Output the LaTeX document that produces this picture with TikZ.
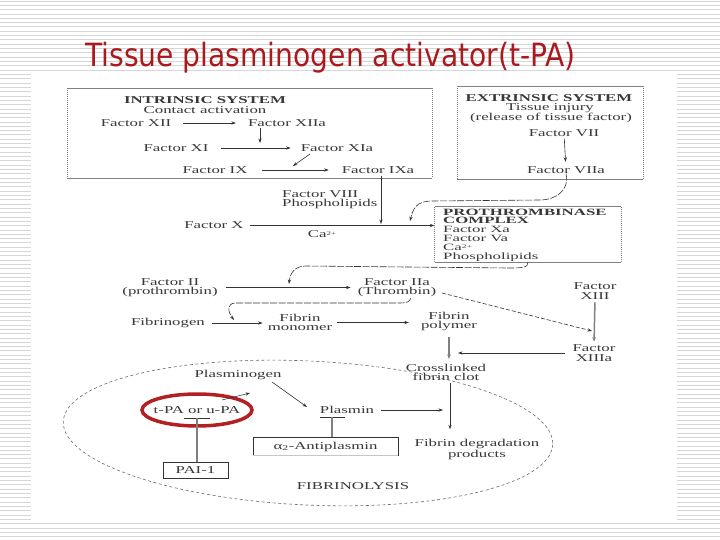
\documentclass[tikz,border=0pt]{standalone}
\usepackage{fontspec}
\usetikzlibrary{arrows.meta,calc}
\newfontfamily\scanfont[FakeStretch=1.6]{Liberation Serif}
\newfontfamily\scanwide[FakeStretch=1.75]{Liberation Serif}
\newfontfamily\titlefont[FakeStretch=0.88]{DejaVu Sans}
\newcommand{\capl}{Ca\raisebox{2.2pt}{\fontsize{5.5}{5.5}\selectfont 2+}}
\definecolor{titlered}{RGB}{170,25,30}
\definecolor{ringred}{RGB}{178,32,36}
\definecolor{txtc}{gray}{0.22}
\definecolor{lnc}{gray}{0.2}
\definecolor{thickc}{gray}{0.5}
\definecolor{boxc}{gray}{0.5}
\definecolor{stripec}{gray}{0.84}
\begin{document}
\begin{tikzpicture}[x=1pt,y=-1pt,
  lbl/.style={font=\scanfont\fontsize{10.5}{9.3}\selectfont, text=txtc, inner sep=0pt, align=center},
  hdr/.style={lbl, font=\scanfont\bfseries\fontsize{10.5}{9.3}\selectfont},
  blbl/.style={lbl, font=\scanwide\fontsize{9.6}{9}\selectfont, anchor=base west},
  bhdr/.style={lbl, font=\scanwide\bfseries\fontsize{9.6}{9}\selectfont, anchor=base west},
  arr/.style={draw=lnc, line width=0.6pt, -{Stealth[length=4.5pt,width=3.2pt]}},
  thk/.style={draw=thickc, line width=1.5pt, -{Stealth[length=4.5pt,width=3.6pt]}},
  thkline/.style={draw=thickc, line width=1.5pt},
  curv/.style={draw=lnc, line width=0.6pt, dash pattern=on 7pt off 1.5pt, -{Stealth[length=4.5pt,width=3.2pt]}},
  darr/.style={draw=lnc, line width=0.6pt, dash pattern=on 4pt off 2pt, -{Stealth[length=4.5pt,width=3.2pt]}},
  solidbox/.style={draw=boxc, line width=0.6pt},
  dotbox/.style={draw=boxc, line width=0.7pt, dash pattern=on 0.8pt off 1.2pt}
]
\useasboundingbox (0,0) rectangle (720,540);
% slide background
\foreach \i in {0,...,125} \draw[stripec, line width=0.9pt] (0,{\i*4.32+1}) -- (720,{\i*4.32+1});
\fill[white] (31,72) rectangle (677,522);
% title
\node[anchor=base west, inner sep=0pt, text=titlered, font=\titlefont\fontsize{32}{36}\selectfont] (title) at (85,67) {Tissue plasminogen activator(t-PA)};

% ---------- intrinsic system ----------
\draw[solidbox] (67,88) -- (432,88) (67,178) -- (432,178);
\draw[dotbox] (67,88) -- (67,178) (432,88) -- (432,178);
\node[hdr] (intr) at (205,100) {INTRINSIC SYSTEM};
\node[lbl] (contact) at (205,110.5) {Contact activation};
\node[lbl] (f12) at (136,123) {Factor XII};
\node[lbl] (f12a) at (287,123) {Factor XIIa};
\node[lbl] (f11) at (176,148) {Factor XI};
\node[lbl] (f11a) at (337,148) {Factor XIa};
\node[lbl] (f9) at (215,170) {Factor IX};
\node[lbl] (f9a) at (378,170) {Factor IXa};
\draw[arr, shorten <=12pt, shorten >=12pt] (f12) -- (f12a);
\draw[arr, shorten <=12pt, shorten >=10pt] (f11) -- (f11a);
\draw[arr, shorten <=14pt, shorten >=13pt] (f9) -- (f9a);
\coordinate (m12) at (260,143);
\draw[arr, shorten <=1.5pt] (m12 |- f12a.south) -- (m12);
\coordinate (m11s) at (310,154);
\coordinate (m11e) at (293,166);
\draw[arr] (m11s) -- (m11e);

% ---------- extrinsic system ----------
\draw[solidbox] (457,86) -- (643,86) (457,179) -- (643,179);
\draw[dotbox] (457,86) -- (457,179) (643,86) -- (643,179);
\node[hdr] (extr) at (549,98) {EXTRINSIC SYSTEM};
\node[lbl] (tinj) at (550,108.5) {Tissue injury};
\node[lbl] (rel) at (551,118) {(release of tissue factor)};
\node[lbl] (f7) at (564,133) {Factor VII};
\node[lbl] (f7a) at (566,170) {Factor VIIa};
\draw[arr, shorten <=2pt, shorten >=4.5pt] (f7) -- (f7a);

% ---------- factor X / prothrombinase ----------
\node[lbl] (fx) at (214,225.5) {Factor X};
\node[lbl, align=left, anchor=west] (f8) at (282,200) {Factor VIII\\Phospholipids};
\node[lbl] (ca) at (322,234.5) {\capl};
\node[minimum width=186pt, minimum height=55pt, inner sep=0pt] (ptb) at (528,234.5) {};
\draw[solidbox] (ptb.north west) -- (ptb.north east) (ptb.south west) -- (ptb.south east);
\draw[dotbox] (ptb.north west) -- (ptb.south west) (ptb.north east) -- (ptb.south east);
\node[bhdr] (pt1) at (443,215.5) {PROTHROMBINASE};
\node[bhdr] (pt2) at (443,223.7) {COMPLEX};
\node[blbl] (pt3) at (443,232.3) {Factor Xa};
\node[blbl] (pt4) at (443,241.0) {Factor Va};
\node[blbl] (pt5) at (443,250.4) {\capl};
\node[blbl] (pt6) at (443,259.3) {Phospholipids};
\draw[arr, shorten <=6pt, shorten >=0.5pt] (fx.east) -- (fx.east -| ptb.west);
\coordinate (c9) at (381,224);
\draw[arr, line width=0.9pt, shorten <=2pt] (c9 |- f9a.south) -- (c9);
\coordinate (c7e) at (410,221);
\draw[curv] (f7a.south) .. controls +(4,16) and +(16,0) .. (540,200) -- (432,201) .. controls +(-16,0) and +(3,-12) .. (c7e);

% ---------- thrombin ----------
\coordinate (c2s) at (528,262);
\coordinate (c2e) at (289,284);
\draw[curv] (c2s) .. controls +(1,6) and +(12,0) .. (508,268) -- (306,266) .. controls +(-12,0) and +(1,-10) .. (c2e);
\node[lbl] (f2) at (170,287.5) {Factor II\\(prothrombin)};
\node[lbl] (f2a) at (397,287.5) {Factor IIa\\(Thrombin)};
\draw[arr, shorten <=8pt, shorten >=7pt] (f2.east) -- (f2.east -| f2a.west);
\coordinate (c3s) at (411,298);
\coordinate (c3e) at (234,320);
\draw[curv] (c3s) .. controls +(-2,4) and +(10,0) .. (398,303) -- (236,303) .. controls +(-10,0) and +(-6,-8) .. (c3e);

% ---------- fibrin ----------
\node[lbl] (fbg) at (168,323) {Fibrinogen};
\node[lbl] (fmo) at (300,322.5) {Fibrin\\monomer};
\node[lbl] (fpo) at (449,321.5) {Fibrin\\polymer};
\draw[arr, shorten <=7pt, shorten >=5pt] (fbg.east) -- (fbg.east -| fmo.west);
\draw[arr, shorten <=5pt, shorten >=12pt] (fmo.east) -- (fmo.east -| fpo.west);
\node[lbl] (f13) at (595,291) {Factor\\XIII};
\node[lbl] (f13a) at (594,353) {Factor\\XIIIa};
\draw[thk, shorten <=3pt, shorten >=3pt] (f13.south) -- (f13a.north);
\coordinate (c13s) at (442,293);
\coordinate (c13) at (592,331);
\draw[darr] (c13s) -- (c13);
\node[lbl] (fcl) at (446,372.5) {Crosslinked\\fibrin clot};
\draw[arr, shorten <=7pt, shorten >=9pt] (f13a.west) -- (f13a.west -| fpo);
\draw[thk, shorten <=6pt, shorten >=5pt] (fpo.south) -- (fpo.south |- fcl.north);
\node[lbl] (fdp) at (477,449.5) {Fibrin degradation\\products};
\coordinate (cfd) at (450,383);
\draw[arr, line width=0.8pt, shorten >=10pt] (cfd) -- (cfd |- fdp.north);

% ---------- fibrinolysis ----------
\draw[draw=gray!85!black, line width=0.6pt, dash pattern=on 3pt off 2.5pt, rotate around={-2.7:(308,433)}] (308,433) ellipse [x radius=245, y radius=72];
\node[lbl] (plg) at (238,375) {Plasminogen};
\node[lbl] (tpa) at (197,410) {t-PA or u-PA};
\draw[ringred, line width=3.5pt] (tpa) ellipse [x radius=55, y radius=16];
\node[lbl] (pls) at (347,410) {Plasmin};
\node[lbl, draw=lnc, line width=0.6pt, minimum width=65pt, minimum height=16pt] (pai) at (195.5,470) {PAI-1};
\node[lbl, minimum width=145pt, minimum height=18pt] (apl) at (325.5,446.5) {α\textsubscript{2}-Antiplasmin};
\draw[lnc, line width=0.6pt] (apl.south west) -- (apl.north west) -- (apl.north east) -- (apl.south east);
\draw[gray!45, line width=0.6pt] (apl.south west) -- (apl.south east);
\node[lbl] (fibl) at (353,486) {FIBRINOLYSIS};
\coordinate (a1s) at (272,382);
\coordinate (a1e) at (307,407);
\draw[arr] (a1s) -- (a1e);
\coordinate (a2s) at (222,400);
\coordinate (a2e) at (250,393);
\draw[arr] (a2s) -- (a2e);
\coordinate (a3e) at (443,408);
\draw[arr, shorten <=7pt] (pls.east) -- (pls.east -| a3e);
\coordinate (tbar) at (197,418);
\draw[lnc, line width=0.6pt] ($(tbar)+(-13,0)$) -- ($(tbar)+(13,0)$);
\draw[thkline] (tbar) -- (tbar |- pai.north);
\coordinate (pbar) at (332,417);
\draw[lnc, line width=0.6pt] ($(pbar)+(-12,0)$) -- ($(pbar)+(13,0)$);
\draw[thkline] (pbar) -- (pbar |- apl.north);
\end{tikzpicture}
\end{document}
